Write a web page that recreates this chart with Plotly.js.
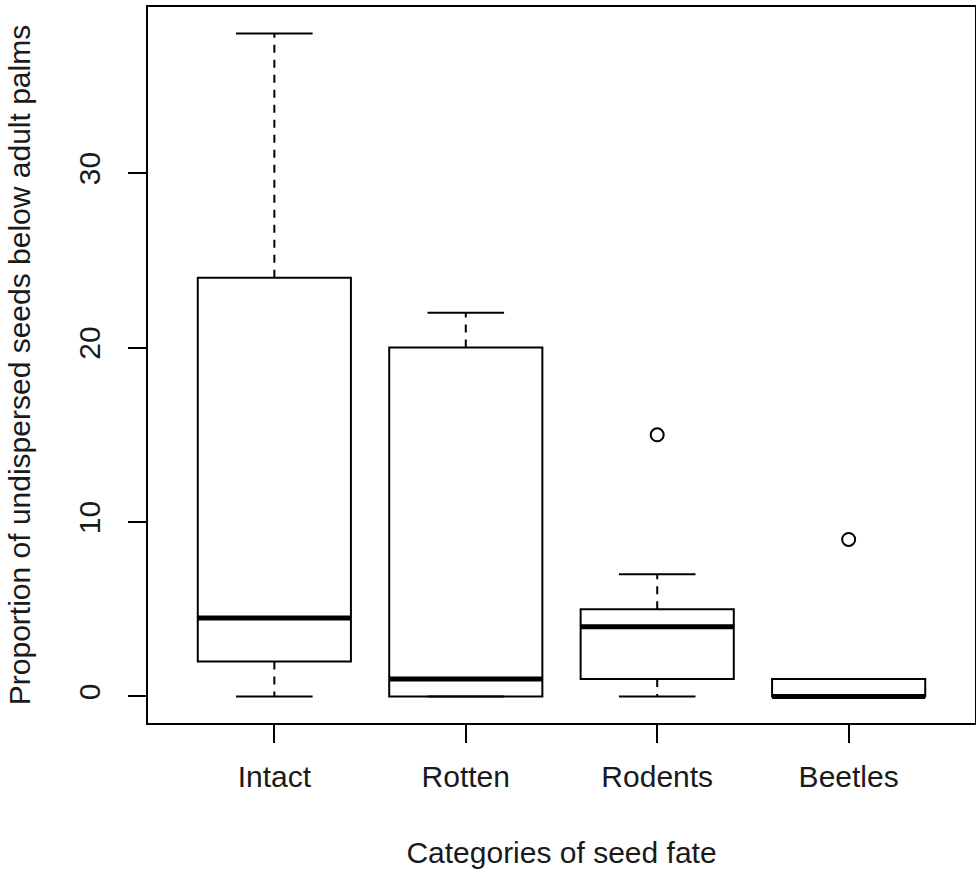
<!DOCTYPE html>
<html>
<head>
<meta charset="utf-8">
<script src="https://cdn.plot.ly/plotly-3.0.1.min.js"></script>
<style>html,body{margin:0;padding:0;background:#fff;}#chart{width:976px;height:871px;}</style>
</head>
<body>
<div id="chart"></div>
<script>
// ---- Data ----
const categories = ["Intact", "Rotten", "Rodents", "Beetles"];
const lowerWhisker = [0, 0, 0, 0];
const q1 = [2, 0, 1, 0];
const median = [4.5, 1, 4, 0];
const q3 = [24, 20, 5, 1];
const upperWhisker = [38, 22, 7, 1];
const outlierCategory = ["Rodents", "Beetles"];
const outlierValue = [15, 9];
const yTickValues = [0, 10, 20, 30];

// ---- Build traces ----
const pos = categories.map((c, i) => i);
const boxHalf = 0.4, stapleHalf = 0.2;

const boxTrace = {
  type: 'box',
  x: pos,
  q1: q1, median: median, q3: q3,
  lowerfence: q1, upperfence: q3,
  width: 2 * boxHalf,
  fillcolor: 'rgba(255,255,255,0)',
  line: {color: '#000', width: 2},
  whiskerwidth: 0,
  boxpoints: false,
  hoverinfo: 'skip',
  showlegend: false
};

const wx = [], wy = [];
const sx = [], sy = [];
const mx = [], my = [];
pos.forEach((p, i) => {
  if (upperWhisker[i] > q3[i]) { wx.push(p, p, null); wy.push(q3[i], upperWhisker[i], null); }
  if (lowerWhisker[i] < q1[i]) { wx.push(p, p, null); wy.push(q1[i], lowerWhisker[i], null); }
  sx.push(p - stapleHalf, p + stapleHalf, null, p - stapleHalf, p + stapleHalf, null);
  sy.push(upperWhisker[i], upperWhisker[i], null, lowerWhisker[i], lowerWhisker[i], null);
  mx.push(p - boxHalf, p + boxHalf, null);
  my.push(median[i], median[i], null);
});

const whiskerTrace = {type: 'scatter', mode: 'lines', x: wx, y: wy,
  line: {color: '#000', width: 2, dash: '8px,7px'}, hoverinfo: 'skip', showlegend: false};
const stapleTrace = {type: 'scatter', mode: 'lines', x: sx, y: sy,
  line: {color: '#000', width: 2}, hoverinfo: 'skip', showlegend: false};
const medianTrace = {type: 'scatter', mode: 'lines', x: mx, y: my,
  line: {color: '#000', width: 5}, hoverinfo: 'skip', showlegend: false};
const outlierTrace = {type: 'scatter', mode: 'markers',
  x: outlierCategory.map(c => categories.indexOf(c)), y: outlierValue,
  marker: {symbol: 'circle-open', size: 13, color: '#000', line: {width: 2, color: '#000'}},
  hoverinfo: 'skip', showlegend: false};

const font = {family: 'Liberation Sans, Arial, sans-serif', size: 30, color: '#1a1a1a'};

const layout = {
  width: 976, height: 871,
  margin: {l: 148, r: 1, t: 7, b: 148},
  paper_bgcolor: '#fff', plot_bgcolor: '#fff',
  font: font,
  showlegend: false,
  xaxis: {
    range: [-0.66, 3.66],
    tickvals: pos, ticktext: categories,
    ticks: 'outside', ticklen: 18, tickwidth: 2, tickcolor: '#000',
    ticklabelstandoff: 8,
    showline: true, mirror: true, linecolor: '#000', linewidth: 2,
    showgrid: false, zeroline: false,
    tickfont: font,
    title: {text: 'Categories of seed fate', font: font, standoff: 50}
  },
  yaxis: {
    range: [-1.52, 39.52],
    tickvals: yTickValues, ticktext: yTickValues.map(String),
    tickangle: -90,
    ticks: 'outside', ticklen: 18, tickwidth: 2, tickcolor: '#000',
    ticklabelstandoff: 16,
    showline: true, mirror: true, linecolor: '#000', linewidth: 2,
    showgrid: false, zeroline: false,
    tickfont: font,
    title: {text: 'Proportion of undispersed seeds below adult palms', font: font, standoff: 34}
  }
};

Plotly.newPlot('chart', [boxTrace, whiskerTrace, stapleTrace, medianTrace, outlierTrace], layout,
  {displayModeBar: false, staticPlot: true});
</script>
</body>
</html>
